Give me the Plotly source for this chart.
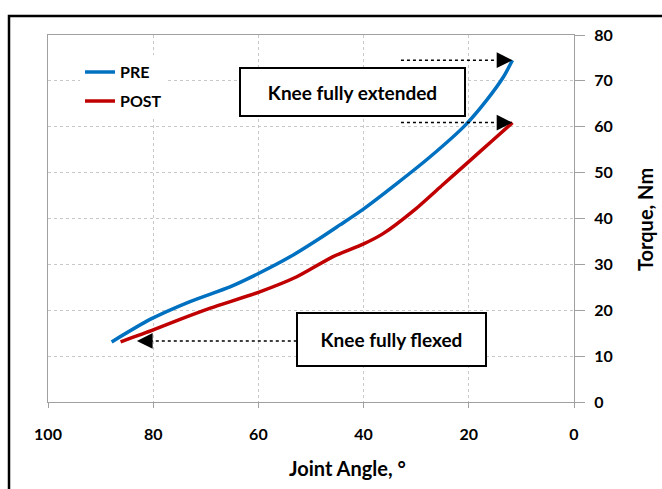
import plotly.graph_objects as go

# Data
pre_angle = [87.9, 80.6, 73.0, 65.4, 60.0, 53.9, 48.3, 44.5, 40.1, 33.7, 27.4, 20.7, 16.6, 13.4, 11.7]
pre_torque = [13.1, 18.0, 21.9, 25.1, 28.0, 31.7, 35.7, 38.6, 42.0, 47.6, 53.4, 60.3, 65.8, 70.9, 74.5]

post_angle = [86.2, 80.0, 74.9, 69.0, 60.0, 52.7, 45.8, 40.1, 36.3, 30.2, 25.0, 20.0, 15.6, 11.7]
post_torque = [13.1, 15.7, 18.0, 20.5, 23.9, 27.3, 31.7, 34.4, 36.7, 42.0, 47.3, 52.4, 56.9, 60.9]

x_ticks = [100, 80, 60, 40, 20, 0]
y_ticks = [0, 10, 20, 30, 40, 50, 60, 70, 80]

FONT = "Lato"
BLUE = "#0070C0"
RED = "#C00000"

fig = go.Figure()
fig.add_trace(go.Scatter(x=pre_angle, y=pre_torque, mode="lines", name="PRE", legendgroup="pre",
                         line=dict(color=BLUE, width=3.5, shape="spline", smoothing=0.6)))
fig.add_trace(go.Scatter(x=post_angle, y=post_torque, mode="lines", name="POST", legendgroup="post",
                         line=dict(color=RED, width=3.5, shape="spline", smoothing=0.6)))

W, H = 662, 489
L, R, T, B = 48, 88, 35, 87
pw, ph = W - L - R, H - T - B

def px_to_paper_x(px):
    return (px - L) / pw

def px_to_paper_y(py):
    return (H - B - py) / ph

# outer black frame
fig.add_shape(type="rect", xref="paper", yref="paper",
              x0=px_to_paper_x(9), x1=px_to_paper_x(W + 20),
              y0=px_to_paper_y(H + 20), y1=px_to_paper_y(16),
              line=dict(color="black", width=2.5), layer="below")

# dotted arrow lines
arrows = [
    (32.9, 74.5, 11.7, 74.5),
    (32.9, 60.9, 11.7, 60.9),
    (52.7, 13.3, 83.1, 13.3),
]
for x0, y0, x1, y1 in arrows:
    direction = 1 if x1 < x0 else -1
    fig.add_shape(type="line", xref="x", yref="y", x0=x0, y0=y0, x1=x1 + direction * 1.5, y1=y1,
                  line=dict(color="black", width=1.5, dash="dot"))
    fig.add_annotation(x=x1, y=y1, ax=x1 + direction * 2.5, ay=y1, xref="x", yref="y",
                       axref="x", ayref="y", text="", showarrow=True,
                       arrowhead=2, arrowsize=2.1, arrowwidth=1.5, arrowcolor="black")

# text boxes
fig.add_annotation(x=42.1, y=67.5, xref="x", yref="y", text="<b>Knee fully extended</b>",
                   showarrow=False, font=dict(family=FONT, size=19, color="black"),
                   bgcolor="white", bordercolor="black", borderwidth=2,
                   width=221, height=44)
fig.add_annotation(x=34.7, y=13.6, xref="x", yref="y", text="<b>Knee fully flexed</b>",
                   showarrow=False, font=dict(family=FONT, size=19, color="black"),
                   bgcolor="white", bordercolor="black", borderwidth=2,
                   width=185, height=49)

# axis titles
fig.add_annotation(xref="paper", yref="paper", x=px_to_paper_x(347), y=px_to_paper_y(468),
                   xanchor="center", yanchor="middle",
                   text="<b>Joint Angle, °</b>", showarrow=False,
                   font=dict(family=FONT, size=20, color="black"))
fig.add_annotation(xref="paper", yref="paper", x=px_to_paper_x(645), y=px_to_paper_y(220),
                   xanchor="center", yanchor="middle",
                   text="<b>Torque, Nm</b>", showarrow=False, textangle=-90,
                   font=dict(family=FONT, size=20, color="black"))

fig.update_layout(
    width=W, height=H,
    margin=dict(l=L, r=R, t=T, b=B),
    paper_bgcolor="white", plot_bgcolor="white",
    font=dict(family=FONT, color="black"),
    showlegend=True,
    legend=dict(x=px_to_paper_x(80), y=0.945, xanchor="left", yanchor="top",
                bgcolor="white", borderwidth=0,
                font=dict(family=FONT, size=16, color="black", weight="bold"),
                tracegroupgap=5, itemwidth=30),
    xaxis=dict(range=[100, 0], tickvals=x_ticks, ticktext=[str(v) for v in x_ticks],
               showgrid=True, gridcolor="#c8c8c8", griddash="dot", gridwidth=1,
               showline=True, linecolor="#a0a0a0", linewidth=1.2, mirror=True,
               ticks="outside", ticklen=5, tickcolor="#a0a0a0",
               ticklabelstandoff=13, zeroline=False,
               tickfont=dict(family=FONT, size=16, color="black", weight="bold")),
    yaxis=dict(range=[0, 80], tickvals=y_ticks, side="right",
               showgrid=True, gridcolor="#c8c8c8", griddash="dot", gridwidth=1,
               showline=True, linecolor="#a0a0a0", linewidth=1.2, mirror=True,
               ticks="outside", ticklen=10, tickcolor="#a0a0a0",
               ticklabelstandoff=6, zeroline=False,
               tickfont=dict(family=FONT, size=16, color="black", weight="bold")),
)

fig.write_html("out.html")
